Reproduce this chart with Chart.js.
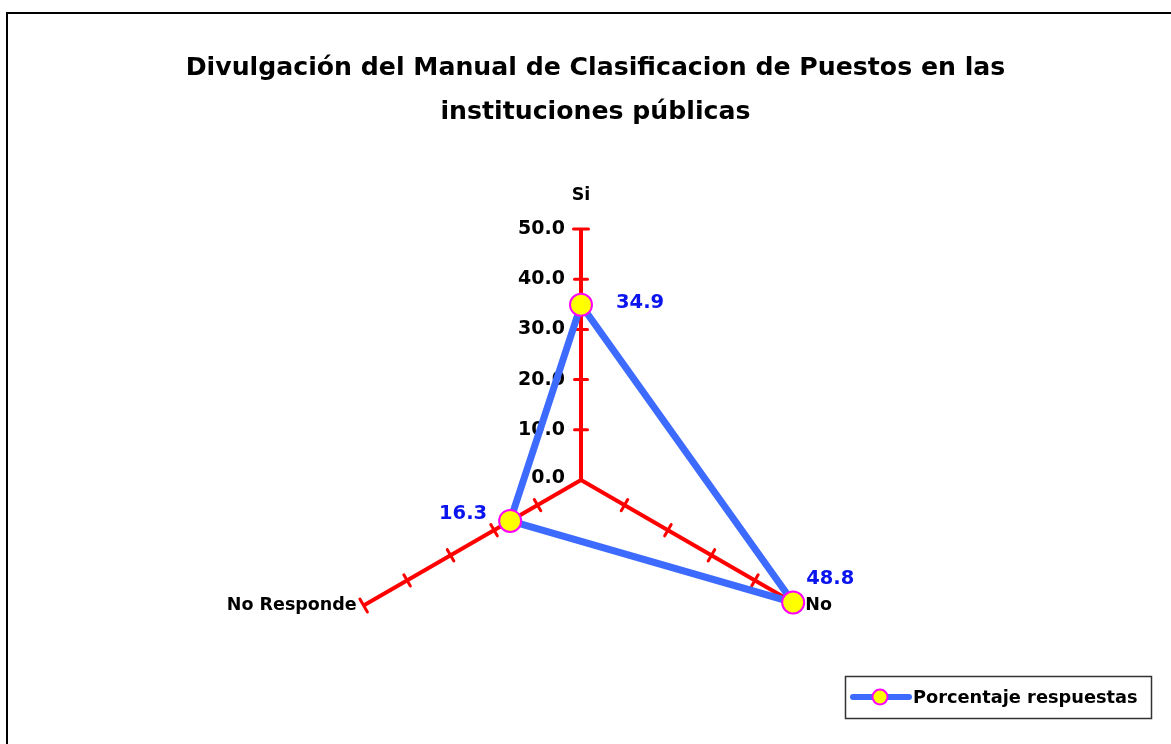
<!DOCTYPE html>
<html>
<head>
<meta charset="utf-8">
<script src="https://cdn.jsdelivr.net/npm/chart.js@4/dist/chart.umd.min.js"></script>
<style>
  html, body { margin: 0; padding: 0; background: #fff; overflow: hidden; }
  #wrap { position: relative; width: 1171px; height: 744px; }
  #frame { position: absolute; left: 6px; top: 12px; width: 1200px; height: 800px; border: 2px solid #000; box-sizing: border-box; pointer-events: none; }
  canvas { position: absolute; left: 0; top: 0; }
</style>
</head>
<body>
<div id="wrap">
  <canvas id="c" width="1171" height="744"></canvas>
  <div id="frame"></div>
</div>
<script>
// ---- data ----
const categories = ['Si', 'No', 'No Responde'];
const seriesLabel = 'Porcentaje respuestas';
const seriesValues = [34.9, 48.8, 16.3];
const tickValues = [0, 10, 20, 30, 40, 50];
const titleLines = ['Divulgación del Manual de Clasificacion de Puestos en las', 'instituciones públicas'];

// ---- styling ----
const FONT = '"DejaVu Sans", "Liberation Sans", sans-serif';
const AXIS_RED = '#ff0000';
const LINE_BLUE = '#3d6bff';
const LABEL_BLUE = '#0a14ee';
const CENTER = { x: 581, y: 480 };
const RADIUS = 251;
// data label offsets relative to point: [dx, dy, align]
const dataLabelOffsets = [[35, -2, 'left'], [13, -24, 'left'], [-23, -7, 'right']];
// point label placement: [distance, dx, dy, align]
const pointLabelPlacement = [[285, 0, 0, 'center'], [259, 0, -4, 'left'], [259, 0, -4, 'right']];

const radarDeco = {
  id: 'radarDeco',
  beforeDatasetsDraw(chart) {
    const s = chart.scales.r;
    const ctx = chart.ctx;
    ctx.save();
    // tick marks on every axis
    ctx.strokeStyle = AXIS_RED;
    ctx.lineWidth = 3;
    ctx.lineCap = 'round';
    for (let i = 0; i < categories.length; i++) {
      const p0 = s.getPointPositionForValue(i, 0);
      const p1 = s.getPointPositionForValue(i, 50);
      const dx = p1.x - p0.x, dy = p1.y - p0.y;
      const len = Math.hypot(dx, dy);
      const nx = -dy / len, ny = dx / len;
      tickValues.forEach(v => {
        if (v === 0) return;
        const p = s.getPointPositionForValue(i, v);
        const half = (v === 50) ? 7.5 : 6.5;
        ctx.beginPath();
        ctx.moveTo(p.x - nx * half, p.y - ny * half);
        ctx.lineTo(p.x + nx * half, p.y + ny * half);
        ctx.stroke();
      });
    }
    // tick labels left of the first axis
    ctx.fillStyle = '#000';
    ctx.font = 'bold 19px ' + FONT;
    ctx.textAlign = 'right';
    ctx.textBaseline = 'middle';
    tickValues.forEach(v => {
      const p = s.getPointPositionForValue(0, v);
      ctx.fillText(v.toFixed(1), p.x - 16, p.y - (v === 0 ? 2 : 0));
    });
    // point (category) labels
    ctx.font = 'bold 17.5px ' + FONT;
    categories.forEach((c, i) => {
      const [d, ox, oy, al] = pointLabelPlacement[i];
      const p = s.getPointPosition(i, d * s.drawingArea / RADIUS);
      ctx.textAlign = al;
      ctx.fillText(c, p.x + ox, p.y + oy);
    });
    ctx.restore();
  },
  afterDatasetsDraw(chart) {
    const ctx = chart.ctx;
    const meta = chart.getDatasetMeta(0);
    ctx.save();
    ctx.fillStyle = LABEL_BLUE;
    ctx.font = 'bold 19.5px ' + FONT;
    ctx.textBaseline = 'middle';
    meta.data.forEach((pt, i) => {
      const [dx, dy, al] = dataLabelOffsets[i];
      ctx.textAlign = al;
      ctx.fillText(seriesValues[i].toFixed(1), pt.x + dx, pt.y + dy);
    });
    // legend box
    const ds = chart.data.datasets[0];
    ctx.strokeStyle = '#333';
    ctx.lineWidth = 1.5;
    ctx.strokeRect(845.5, 676.5, 306, 42);
    ctx.strokeStyle = ds.borderColor;
    ctx.lineWidth = 6;
    ctx.lineCap = 'round';
    ctx.beginPath();
    ctx.moveTo(853, 697);
    ctx.lineTo(909, 697);
    ctx.stroke();
    ctx.beginPath();
    ctx.arc(880, 697, 7.5, 0, Math.PI * 2);
    ctx.fillStyle = ds.pointBackgroundColor;
    ctx.fill();
    ctx.lineWidth = 2;
    ctx.strokeStyle = ds.pointBorderColor;
    ctx.stroke();
    ctx.fillStyle = '#000';
    ctx.font = 'bold 17.8px ' + FONT;
    ctx.textAlign = 'left';
    ctx.fillText(ds.label, 913, 698);
    ctx.restore();
  }
};

new Chart(document.getElementById('c'), {
  type: 'radar',
  data: {
    labels: categories,
    datasets: [{
      label: seriesLabel,
      data: seriesValues,
      borderColor: LINE_BLUE,
      borderWidth: 7,
      backgroundColor: 'rgba(0,0,0,0)',
      fill: false,
      pointRadius: 11,
      pointBorderWidth: 2,
      pointBackgroundColor: '#ffff00',
      pointBorderColor: '#ff00ff',
      clip: false,
      tension: 0
    }]
  },
  options: {
    responsive: false,
    animation: false,
    devicePixelRatio: 1,
    layout: { padding: { left: 20, right: 0, top: 0, bottom: 0 } },
    plugins: {
      legend: { display: false },
      tooltip: { enabled: false },
      title: {
        display: true,
        text: titleLines,
        color: '#000',
        font: { family: FONT, size: 25.2, weight: 'bold', lineHeight: 1.746 },
        padding: { top: 46, bottom: 10 },
        align: 'center'
      }
    },
    scales: {
      r: {
        min: 0,
        max: 50,
        startAngle: 0,
        angleLines: { display: true, color: AXIS_RED, lineWidth: 4 },
        grid: { display: false },
        ticks: { display: false, stepSize: 10 },
        pointLabels: { display: false },
        afterFit(scale) {
          scale.xCenter = CENTER.x;
          scale.yCenter = CENTER.y;
          scale.drawingArea = RADIUS;
        }
      }
    }
  },
  plugins: [radarDeco]
});
</script>
</body>
</html>
